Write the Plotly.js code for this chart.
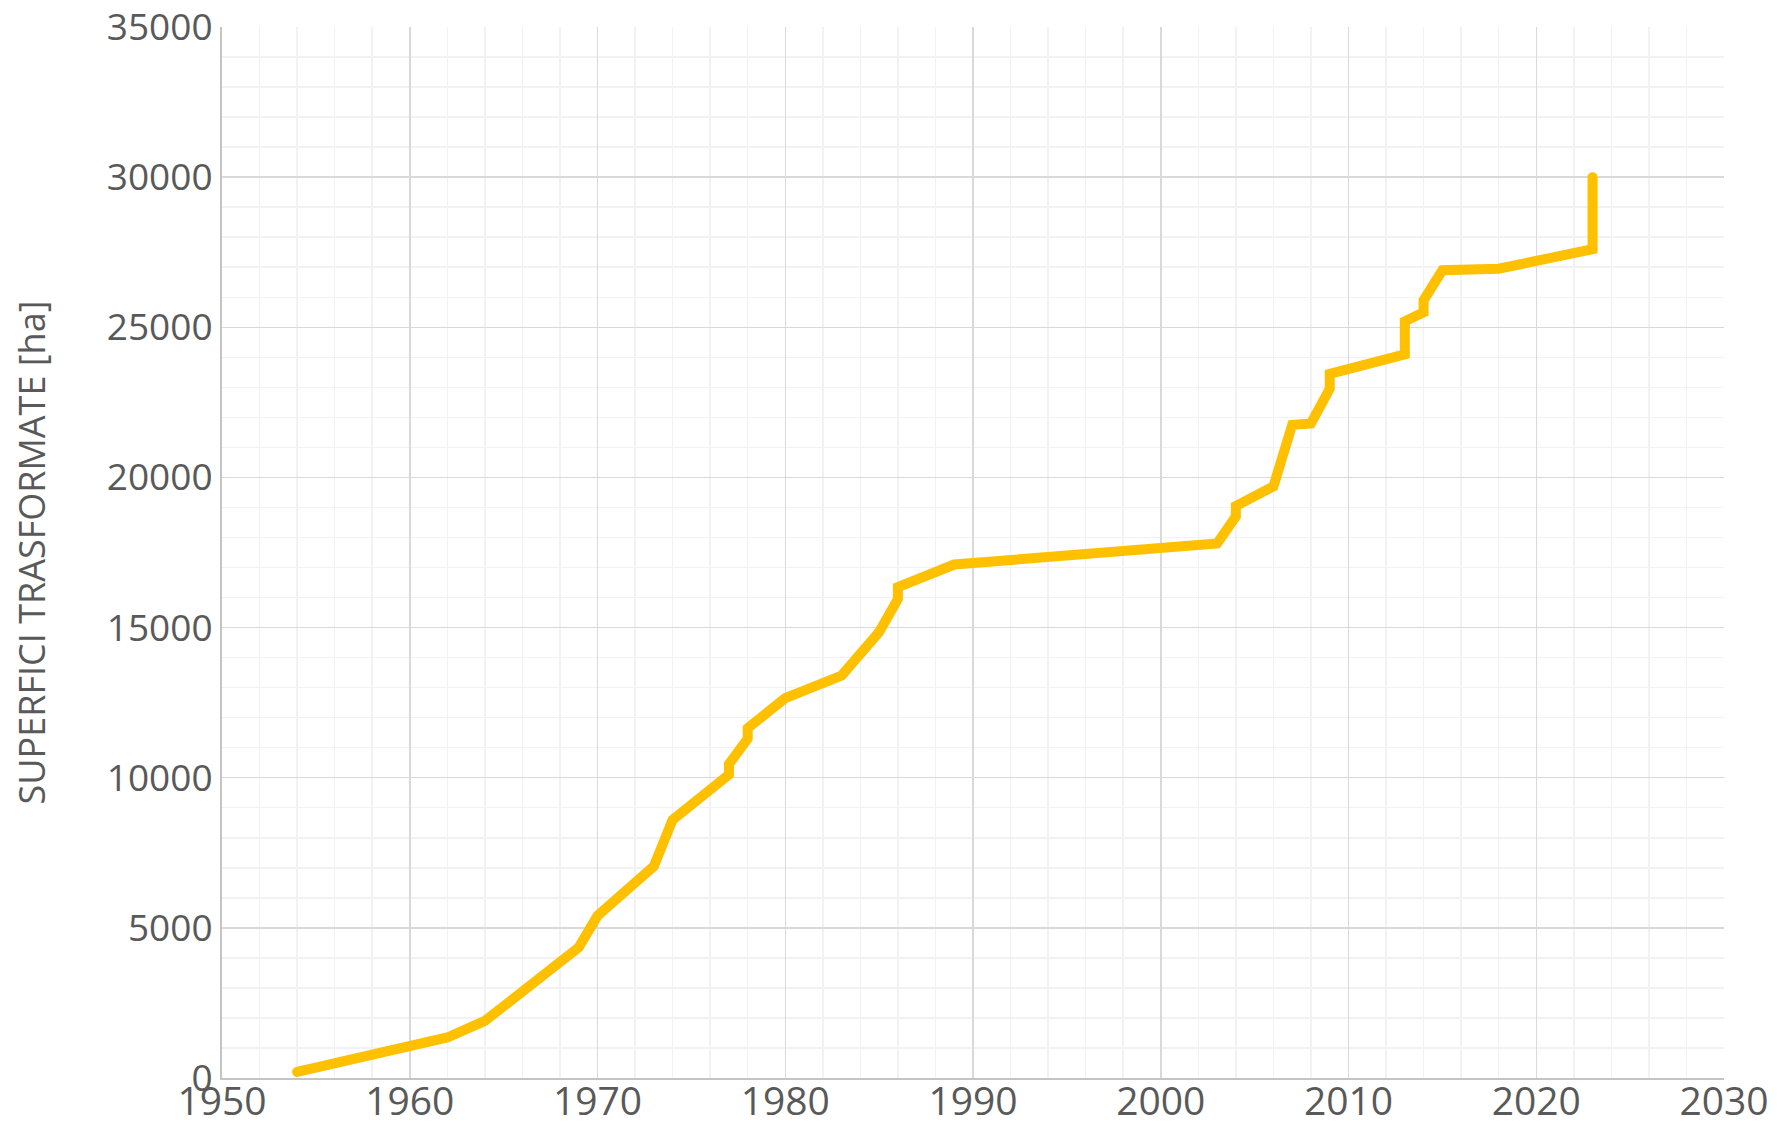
<!DOCTYPE html>
<html>
<head>
<meta charset="utf-8">
<script src="https://cdn.plot.ly/plotly-3.0.1.min.js"></script>
<style>
  html, body { margin: 0; padding: 0; background: #ffffff; }
  #chart { width: 1777px; height: 1126px; }
  .js-line { stroke-linecap: round; }
</style>
</head>
<body>
<div id="chart"></div>
<script>
// Anno (year) and cumulative transformed surface [ha]
const years = [1954, 1962, 1964, 1969, 1970, 1973, 1974, 1977, 1977, 1978, 1978, 1980, 1983, 1985, 1986, 1986, 1989,
               2003, 2004, 2004, 2006, 2007, 2008, 2009, 2009, 2013, 2013, 2014, 2014, 2015, 2018, 2023, 2023];
const surfaces = [200, 1350, 1900, 4350, 5400, 7050, 8600, 10100, 10450, 11300, 11650, 12650, 13400, 14850, 15950, 16350, 17100,
                  17800, 18700, 19050, 19700, 21750, 21800, 22950, 23450, 24100, 25200, 25500, 25900, 26900, 26950, 27600, 30000];
const xTickVals = [1950, 1960, 1970, 1980, 1990, 2000, 2010, 2020, 2030];
const yTickVals = [0, 5000, 10000, 15000, 20000, 25000, 30000, 35000];
const yTitle = "SUPERFICI TRASFORMATE [ha]";

const trace = {
  x: years,
  y: surfaces,
  type: "scatter",
  mode: "lines",
  line: { color: "#FFC000", width: 10 },
  hoverinfo: "skip",
  showlegend: false
};

const font = "'Open Sans', 'Noto Sans', sans-serif";

const layout = {
  width: 1777,
  height: 1126,
  margin: { l: 222, r: 53, t: 27, b: 48, pad: 0 },
  paper_bgcolor: "#ffffff",
  plot_bgcolor: "#ffffff",
  font: { family: font, color: "#595959" },
  showlegend: false,
  xaxis: {
    range: [1950, 2030],
    tickmode: "array",
    tickvals: xTickVals,
    ticktext: xTickVals.map(String),
    showgrid: true,
    gridcolor: "#D9D9D9",
    gridwidth: 1.5,
    minor: { dtick: 2, tick0: 1950, showgrid: true, gridcolor: "#F2F2F2", gridwidth: 1.5 },
    showline: true,
    linecolor: "#C4C4C4",
    linewidth: 2,
    zeroline: false,
    ticks: "",
    ticklabelstandoff: -12,
    ticklabeloverflow: "allow",
    tickfont: { family: font, size: 39, color: "#595959" },
    fixedrange: true
  },
  yaxis: {
    range: [0, 35000],
    tickmode: "array",
    tickvals: yTickVals,
    ticktext: yTickVals.map(String),
    showgrid: true,
    gridcolor: "#D9D9D9",
    gridwidth: 1.5,
    minor: { dtick: 1000, tick0: 0, showgrid: true, gridcolor: "#F2F2F2", gridwidth: 1.5 },
    showline: true,
    linecolor: "#C4C4C4",
    linewidth: 2,
    zeroline: false,
    ticks: "",
    ticklabelstandoff: 0,
    ticklabeloverflow: "allow",
    tickfont: { family: font, size: 37, color: "#595959" },
    title: { text: yTitle, font: { family: font, size: 36, color: "#595959" }, standoff: 50 },
    fixedrange: true
  }
};

Plotly.newPlot("chart", [trace], layout, { displayModeBar: false, staticPlot: true });
</script>
</body>
</html>
